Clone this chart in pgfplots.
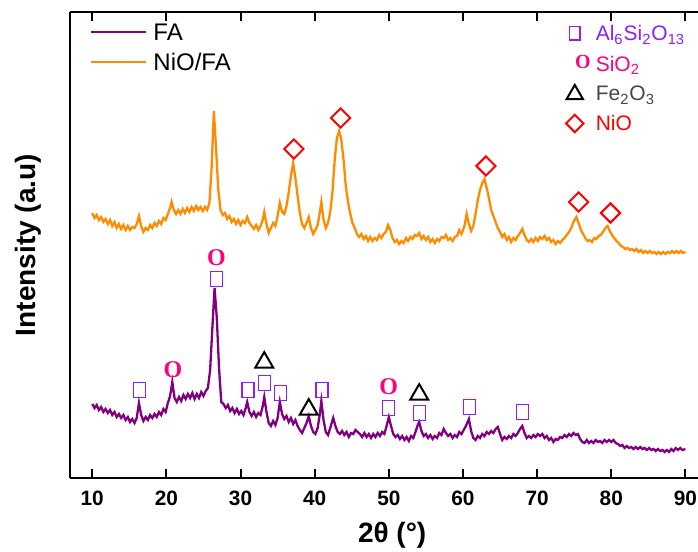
\documentclass[border=0pt]{standalone}
\usepackage{fontspec}
\setmainfont{Liberation Sans}
\newfontfamily\serifO{Liberation Serif}
\usepackage{pgfplots}
\usepackage{pgfplotstable}
\pgfplotsset{compat=1.18}

\definecolor{facol}{RGB}{128,0,128}
\definecolor{niocol}{RGB}{255,140,0}
\definecolor{alcol}{RGB}{140,30,255}
\definecolor{sicol}{RGB}{255,0,128}
\definecolor{fecol}{RGB}{70,70,70}
\definecolor{redcol}{RGB}{255,0,0}

% FA pattern (intensity in arbitrary units)
\pgfplotstableread{
x y
10.0 74
10.3 70
10.6 73
10.9 68
11.2 71
11.5 66
11.8 69
12.1 65
12.4 68
12.7 63
13.0 66
13.3 61
13.6 64
13.9 60
14.2 63
14.5 58
14.8 61
15.1 56
15.4 59
15.7 55
16.0 60
16.3 75
16.6 63
16.9 57
17.2 61
17.5 58
17.8 63
18.1 60
18.4 64
18.7 61
19.0 66
19.3 63
19.6 69
19.9 66
20.2 75
20.5 82
20.8 96
21.1 80
21.4 76
21.7 81
22.0 77
22.3 83
22.6 79
22.9 84
23.2 80
23.5 85
23.8 79
24.1 84
24.4 80
24.7 86
25.0 82
25.3 87
25.6 90
25.9 108
26.2 150
26.5 190
26.8 160
27.1 110
27.4 76
27.7 74
28.0 70
28.3 73
28.6 67
28.9 70
29.2 65
29.5 69
29.8 64
30.1 67
30.4 63
30.7 70
30.9 76
31.2 66
31.5 62
31.8 66
32.1 61
32.4 65
32.7 63
33.0 72
33.2 81
33.5 66
33.8 55
34.1 52
34.4 57
34.7 53
35.0 60
35.3 76
35.6 64
35.9 59
36.2 62
36.5 56
36.8 60
37.1 54
37.4 58
37.7 52
38.0 48
38.3 45
38.6 50
38.9 55
39.2 62
39.5 52
39.8 46
40.1 44
40.4 50
40.7 64
40.9 77
41.2 58
41.5 46
41.8 43
42.1 50
42.5 60
42.8 52
43.1 46
43.4 44
43.7 47
44.0 43
44.3 46
44.6 41
44.9 45
45.2 44
45.5 48
45.8 46
46.1 44
46.4 41
46.7 45
47.0 41
47.3 44
47.6 40
47.9 44
48.2 41
48.5 45
48.8 42
49.1 46
49.4 44
49.7 52
50.0 61
50.3 52
50.6 44
50.9 41
51.2 43
51.5 39
51.8 42
52.1 38
52.4 41
52.7 37
53.0 42
53.3 40
53.6 46
53.9 53
54.1 56
54.4 47
54.7 42
55.0 44
55.3 40
55.6 43
55.9 39
56.2 42
56.5 40
56.8 45
57.1 43
57.4 49
57.7 45
58.0 42
58.3 44
58.6 40
58.9 43
59.2 41
59.5 46
59.8 44
60.1 48
60.4 52
60.8 59
61.1 47
61.4 40
61.7 38
62.0 42
62.3 40
62.6 44
62.9 42
63.2 46
63.5 44
63.8 47
64.1 45
64.4 49
64.7 51
65.0 44
65.3 38
65.6 41
65.9 39
66.2 42
66.5 40
66.8 44
67.1 42
67.4 45
67.7 49
68.0 52
68.3 45
68.6 40
68.9 42
69.2 40
69.5 43
69.8 41
70.1 44
70.4 42
70.7 44
71.0 40
71.3 42
71.6 38
71.9 40
72.2 36
72.5 39
72.8 38
73.1 41
73.4 40
73.7 43
74.0 41
74.3 44
74.6 42
74.9 45
75.2 43
75.5 44
75.8 39
76.1 36
76.4 35
76.7 38
77.0 35
77.3 37
77.6 35
77.9 38
78.2 36
78.5 37
78.8 35
79.1 38
79.4 36
79.7 38
80.0 36
80.3 38
80.6 35
80.9 34
81.2 32
81.5 33
81.8 30
82.1 32
82.4 30
82.7 31
83.0 29
83.3 31
83.6 29
83.9 31
84.2 29
84.5 30
84.8 28
85.1 30
85.4 28
85.7 29
86.0 27
86.3 29
86.6 27
86.9 28
87.2 26
87.5 28
87.8 26
88.1 29
88.4 27
88.7 30
89.0 28
89.3 30
89.6 28
90.0 29
}\fadata

% NiO/FA pattern
\pgfplotstableread{
x y
10.0 265
10.3 260
10.6 263
10.9 258
11.2 261
11.5 256
11.8 259
12.1 254
12.4 258
12.7 252
13.0 256
13.3 250
13.6 254
13.9 249
14.2 253
14.5 248
14.8 252
15.1 248
15.4 251
15.7 250
16.0 254
16.3 262
16.6 252
16.9 246
17.2 250
17.5 248
17.8 253
18.1 250
18.4 255
18.7 252
19.0 257
19.3 254
19.6 260
19.9 258
20.2 264
20.5 270
20.7 276
21.0 268
21.3 264
21.6 268
21.9 264
22.2 269
22.5 265
22.8 270
23.1 266
23.4 271
23.7 267
24.0 272
24.3 268
24.6 271
24.9 267
25.2 271
25.5 268
25.8 275
26.1 310
26.4 367
26.7 330
27.0 288
27.3 268
27.6 263
27.9 265
28.2 259
28.5 262
28.8 256
29.1 259
29.4 254
29.7 258
30.0 253
30.3 257
30.6 255
30.9 261
31.2 255
31.5 252
31.8 249
32.1 253
32.4 248
32.7 252
33.0 258
33.2 266
33.5 254
33.8 245
34.1 250
34.4 255
34.7 252
35.0 262
35.3 275
35.6 266
35.9 264
36.2 272
36.5 286
36.8 302
37.1 315
37.4 300
37.7 282
38.0 265
38.3 254
38.6 250
38.9 255
39.2 261
39.5 250
39.8 244
40.1 248
40.4 253
40.7 266
40.9 276
41.2 258
41.5 250
41.8 255
42.1 266
42.4 286
42.7 318
43.0 340
43.3 347
43.6 338
43.9 318
44.2 292
44.5 276
44.8 264
45.1 255
45.4 250
45.7 244
46.0 241
46.3 244
46.6 239
46.9 242
47.2 237
47.5 241
47.8 237
48.1 240
48.4 238
48.7 243
49.0 240
49.3 244
49.6 246
49.9 253
50.2 248
50.5 240
50.8 236
51.1 238
51.4 234
51.7 237
52.0 235
52.3 240
52.6 237
52.9 241
53.2 239
53.5 243
53.8 242
54.1 245
54.4 239
54.7 242
55.0 238
55.3 241
55.6 236
55.9 239
56.2 235
56.5 239
56.8 237
57.1 241
57.4 240
57.7 243
58.0 238
58.3 240
58.6 237
58.9 241
59.2 242
59.5 248
59.8 244
60.2 252
60.5 264
60.8 254
61.1 247
61.4 252
61.7 264
62.0 278
62.3 288
62.6 295
62.9 299
63.2 290
63.5 280
63.8 268
64.1 262
64.4 256
64.7 250
65.0 246
65.3 241
65.6 244
65.9 238
66.2 241
66.5 236
66.8 240
67.1 238
67.4 242
67.7 245
68.0 249
68.3 243
68.6 238
68.9 236
69.2 239
69.5 236
69.8 240
70.1 237
70.4 241
70.7 239
71.0 242
71.3 238
71.6 240
71.9 236
72.2 238
72.5 234
72.8 237
73.1 235
73.4 238
73.7 240
74.0 243
74.3 246
74.6 250
74.9 256
75.3 261
75.6 255
75.9 248
76.2 244
76.5 240
76.8 237
77.1 238
77.4 236
77.7 240
78.0 239
78.3 242
78.6 243
78.9 246
79.2 250
79.5 252
79.8 247
80.1 243
80.4 240
80.7 237
81.0 235
81.3 232
81.6 231
81.9 229
82.2 230
82.5 228
82.8 229
83.1 227
83.4 229
83.7 226
84.0 228
84.3 225
84.6 227
84.9 225
85.2 227
85.5 225
85.8 226
86.1 224
86.4 226
86.7 224
87.0 226
87.3 224
87.6 226
87.9 225
88.2 227
88.5 225
88.8 227
89.1 225
89.4 227
89.7 225
90.0 226
}\niodata

\pgfplotsset{xrdaxis/.style={scale only axis, width=314pt, height=233pt,
  xmin=7, xmax=91.7, ymin=0, ymax=466}}

\newcommand{\bigO}{\textcolor{sicol}{\serifO\bfseries\fontsize{12}{12}\selectfont O}}
\newcommand{\smallO}{\textcolor{sicol}{\serifO\bfseries\fontsize{10}{10}\selectfont O}}

\begin{document}
\begin{tikzpicture}
\begin{axis}[xrdaxis,
  separate axis lines, axis x line=box, axis y line=left,
  axis line style={-, line width=1pt},
  xtick={10,20,...,90}, ytick=\empty,
  tick align=inside, major tick length=4.5pt,
  tick style={black, line width=1pt},
  /pgf/number format/assume math mode=true,
  xticklabel style={font=\fontsize{10.4}{12}\selectfont\bfseries, yshift=-3pt},
  xlabel={2θ (°)}, ylabel={Intensity (a.u)},
  xlabel style={at={(axis description cs:0.513,-0.122)}, anchor=center,
    font=\fontsize{14}{16}\selectfont\bfseries},
  ylabel style={at={(axis description cs:-0.066,0.5)}, anchor=center,
    font=\fontsize{14}{16}\selectfont\bfseries},
  legend style={at={(axis description cs:0.032,0.979)}, anchor=north west,
    draw=none, fill=none, inner sep=0pt, row sep=3pt,
    font=\fontsize{12}{14}\selectfont,
    nodes={inner sep=0pt, text height=9pt, text depth=3pt},
    /tikz/every odd column/.append style={column sep=3pt}},
  legend cell align=left,
]
\addplot[forget plot, facol, line width=1.15pt] table {\fadata};
\addplot[forget plot, niocol, line width=1.15pt] table {\niodata};
\addlegendimage{legend image code/.code={%
  \draw[facol, line width=1pt] (0pt,1.3pt) -- (27.5pt,1.3pt);}}
\addlegendentry{FA}
\addlegendimage{legend image code/.code={%
  \draw[niocol, line width=1pt] (0pt,1.3pt) -- (27.5pt,1.3pt);}}
\addlegendentry{NiO/FA}
\end{axis}

\begin{axis}[xrdaxis, hide axis, clip=false,
  legend style={at={(axis description cs:0.7866,0.972)}, anchor=north west,
    draw=none, fill=none, inner sep=0pt, row sep=3.7pt,
    font=\fontsize{10.5}{12}\selectfont,
    nodes={inner sep=0pt, text height=7.5pt, text depth=2.5pt},
    /tikz/every odd column/.append style={column sep=2.5pt}},
  legend cell align=left,
]
% Al6Si2O13
\addplot[forget plot, only marks, mark=square, mark size=3pt, alcol,
  mark options={yscale=1.25, line width=0.6pt}] coordinates {
  (16.35,88) (26.8,199) (31.0,88) (33.2,95) (35.4,85) (41.0,88)
  (50.0,70) (54.1,65) (60.9,71) (68.0,66)};
% SiO2
\addplot[forget plot, only marks, mark=text, text mark={\bigO}]
  coordinates {(20.9,108) (26.75,220) (50.0,91)};
% Fe2O3
\addplot[forget plot, only marks, mark=triangle, mark size=5.2pt, black,
  mark options={line width=1pt}] coordinates {(33.2,115.5) (39.2,68.5) (54.1,83.5)};
% NiO
\addplot[forget plot, only marks, mark=square, mark size=3.4pt, redcol,
  mark options={rotate=45, line width=1pt}] coordinates {
  (37.2,329) (43.5,360) (63.1,312) (75.6,276) (79.9,265)};

\addlegendimage{legend image code/.code={%
  \draw[alcol, line width=0.7pt] (-2.6pt,-2.1pt) rectangle (2.6pt,4.6pt);
  \path (-5pt,-5pt) (5pt,5pt);}}
\addlegendentry{\textcolor{alcol}{Al\textsubscript{6}Si\textsubscript{2}O\textsubscript{13}}}
\addlegendimage{legend image code/.code={%
  \node[inner sep=0pt] at (0pt,1.25pt) {\smallO};
  \path (-5pt,-5pt) (5pt,5pt);}}
\addlegendentry{\textcolor{sicol}{SiO\textsubscript{2}}}
\addlegendimage{legend image code/.code={%
  \draw[black, line width=1pt] (0pt,5.5pt) -- (-4.1pt,-1.6pt) -- (4.1pt,-1.6pt) -- cycle;
  \path (-5pt,-5pt) (5pt,5pt);}}
\addlegendentry{\textcolor{fecol}{Fe\textsubscript{2}O\textsubscript{3}}}
\addlegendimage{legend image code/.code={%
  \draw[redcol, line width=1pt] (0pt,5.6pt) -- (4.35pt,1.25pt) -- (0pt,-3.1pt) -- (-4.35pt,1.25pt) -- cycle;
  \path (-5pt,-5pt) (5pt,5pt);}}
\addlegendentry{\textcolor{redcol}{NiO}}
\end{axis}
\pgfresetboundingbox
\useasboundingbox ([xshift=-35pt,yshift=-37pt]current axis.south west)
  rectangle ([yshift=6pt]current axis.north east);
\end{tikzpicture}
\end{document}
